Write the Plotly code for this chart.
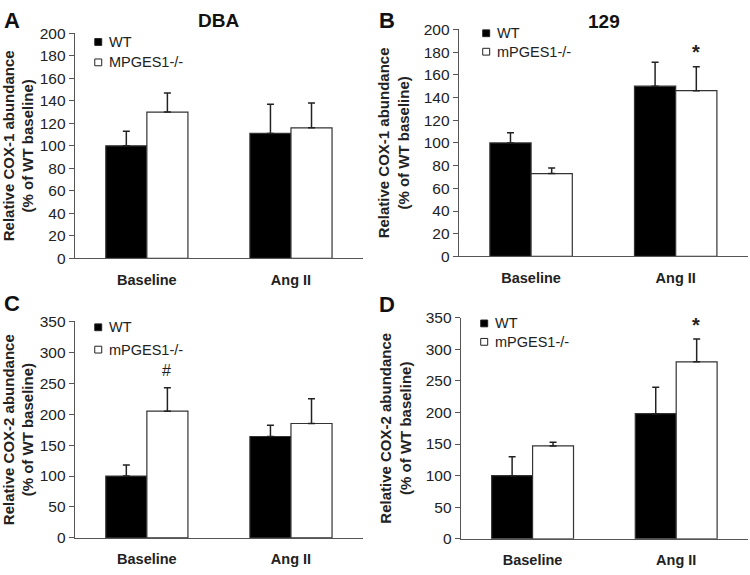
import plotly.graph_objects as go

# ── Data ─────────────────────────────────────────────────────────────────────
categories = ["Baseline", "Ang II"]

cox1_dba_wt = [100, 111]
cox1_dba_wt_err = [13, 26]
cox1_dba_ko = [130, 116]
cox1_dba_ko_err = [17, 22]

cox1_129_wt = [100, 150]
cox1_129_wt_err = [9, 21]
cox1_129_ko = [73, 146]
cox1_129_ko_err = [5, 21]

cox2_dba_wt = [100, 164]
cox2_dba_wt_err = [18, 18]
cox2_dba_ko = [205, 185]
cox2_dba_ko_err = [38, 40]

cox2_129_wt = [100, 198]
cox2_129_wt_err = [30, 42]
cox2_129_ko = [147, 280]
cox2_129_ko_err = [6, 36]

FONT = "Arial, Liberation Sans, sans-serif"
W, H = 750, 575

panels = [
    # axis suffix, wt, wt_err, ko, ko_err, y max, dtick
    ("", cox1_dba_wt, cox1_dba_wt_err, cox1_dba_ko, cox1_dba_ko_err, 200, 20),
    ("2", cox1_129_wt, cox1_129_wt_err, cox1_129_ko, cox1_129_ko_err, 200, 20),
    ("3", cox2_dba_wt, cox2_dba_wt_err, cox2_dba_ko, cox2_dba_ko_err, 350, 50),
    ("4", cox2_129_wt, cox2_129_wt_err, cox2_129_ko, cox2_129_ko_err, 350, 50),
]

# panel boxes in pixels: left, right, top, bottom
boxes = [
    (73, 362, 25, 257),
    (458, 748, 21, 255),
    (73, 362, 322, 545),
    (460, 748, 318, 546),
]

ytitles = [
    "Relative COX-1 abundance<br>(% of WT baseline)",
    "Relative COX-1 abundance<br>(% of WT baseline)",
    "Relative COX-2 abundance<br>(% of WT baseline)",
    "Relative COX-2 abundance<br>(% of WT baseline)",
]

fig = go.Figure()

for (sfx, wt, wt_err, ko, ko_err, ymax, dt) in panels:
    xa, ya = "x" + sfx, "y" + sfx
    for vals, errs, fill in [(wt, wt_err, "black"), (ko, ko_err, "white")]:
        fig.add_trace(go.Bar(
            x=categories, y=vals, xaxis=xa, yaxis=ya,
            marker=dict(color=fill, line=dict(color="#333", width=1.2)),
            error_y=dict(type="data", array=errs, arrayminus=[0, 0], symmetric=False,
                         color="#222", thickness=1.5, width=3.5),
            showlegend=False,
        ))

layout = dict(
    width=W, height=H,
    margin=dict(l=0, r=0, t=0, b=0),
    plot_bgcolor="white", paper_bgcolor="white",
    barmode="group", bargap=0.43, bargroupgap=0,
    font=dict(family=FONT, color="#222"),
    showlegend=False,
)

for i, (p, (l, r, t, b)) in enumerate(zip(panels, boxes)):
    sfx, ymax, dt = p[0], p[5], p[6]
    layout["xaxis" + sfx] = dict(
        domain=[l / W, r / W], anchor="y" + sfx,
        showline=True, linecolor="#555", linewidth=1.2,
        ticks="", ticklen=0, showgrid=False, zeroline=False,
        tickfont=dict(size=14.5, family=FONT, color="#222", weight="bold"),
        ticklabelstandoff=8,
    )
    layout["yaxis" + sfx] = dict(
        domain=[1 - b / H, 1 - t / H], anchor="x" + sfx,
        range=[0, ymax], dtick=dt,
        showline=True, linecolor="#555", linewidth=1.2,
        ticks="outside", ticklen=5, tickcolor="#555",
        showgrid=False, zeroline=False,
        tickfont=dict(size=15.5, family=FONT, color="#222"),
        title=dict(text=ytitles[i], standoff=10,
                   font=dict(size=15, family=FONT, color="#222", weight="bold")),
    )

fig.update_layout(**layout)

annotations = []
shapes = []

# panel letters and strain titles
for txt, px, py in [("A", 10, 12), ("B", 386, 12), ("C", 10, 303), ("D", 386, 304)]:
    annotations.append(dict(text=f"<b>{txt}</b>", x=px / W, y=1 - py / H, xref="paper", yref="paper",
                            showarrow=False, font=dict(size=22, family=FONT, color="#111"),
                            xanchor="center", yanchor="middle"))
for txt, px, py in [("DBA", 217, 12), ("129", 604, 13)]:
    annotations.append(dict(text=f"<b>{txt}</b>", x=px / W, y=1 - py / H, xref="paper", yref="paper",
                            showarrow=False, font=dict(size=19, family=FONT, color="#111"),
                            xanchor="center", yanchor="middle"))

# legends (one per panel): square left edge, WT row y, KO row y, KO label
legends = [
    (93, 34, 55, "MPGES1-/-"),
    (482, 25, 44, "mPGES1-/-"),
    (93, 328, 351, "mPGES1-/-"),
    (480, 324, 343, "mPGES1-/-"),
]
for lx, y1, y2, ko_name in legends:
    for fill, name, py in [("black", "WT", y1), ("white", ko_name, y2)]:
        shapes.append(dict(type="rect", xref="paper", yref="paper",
                           x0=lx / W, x1=(lx + 7) / W, y0=1 - (py - 3.5) / H, y1=1 - (py + 3.5) / H,
                           fillcolor=fill, line=dict(color="#222", width=1)))
        annotations.append(dict(text=name, x=(lx + 12) / W, y=1 - py / H, xref="paper", yref="paper",
                                showarrow=False, font=dict(size=14.5, family=FONT, color="#222"),
                                xanchor="left", yanchor="middle"))

# significance marks above mPGES1-/- bars
for sym, xa, ya, cat, yv in [("*", "x2", "y2", "Ang II", 180),
                             ("#", "x3", "y3", "Baseline", 271),
                             ("*", "x4", "y4", "Ang II", 338)]:
    annotations.append(dict(text=f"<b>{sym}</b>" if sym == "*" else sym, x=cat, y=yv, xref=xa, yref=ya,
                            xshift=20, showarrow=False,
                            font=dict(size=20 if sym == "*" else 16, family=FONT, color="#222"),
                            xanchor="center", yanchor="middle"))

fig.update_layout(annotations=annotations, shapes=shapes)

# drop the default page margin so the figure sits at the window's top-left corner
fig.write_html("out.html", config={"displayModeBar": False},
               post_script="document.body.style.margin='0';")
